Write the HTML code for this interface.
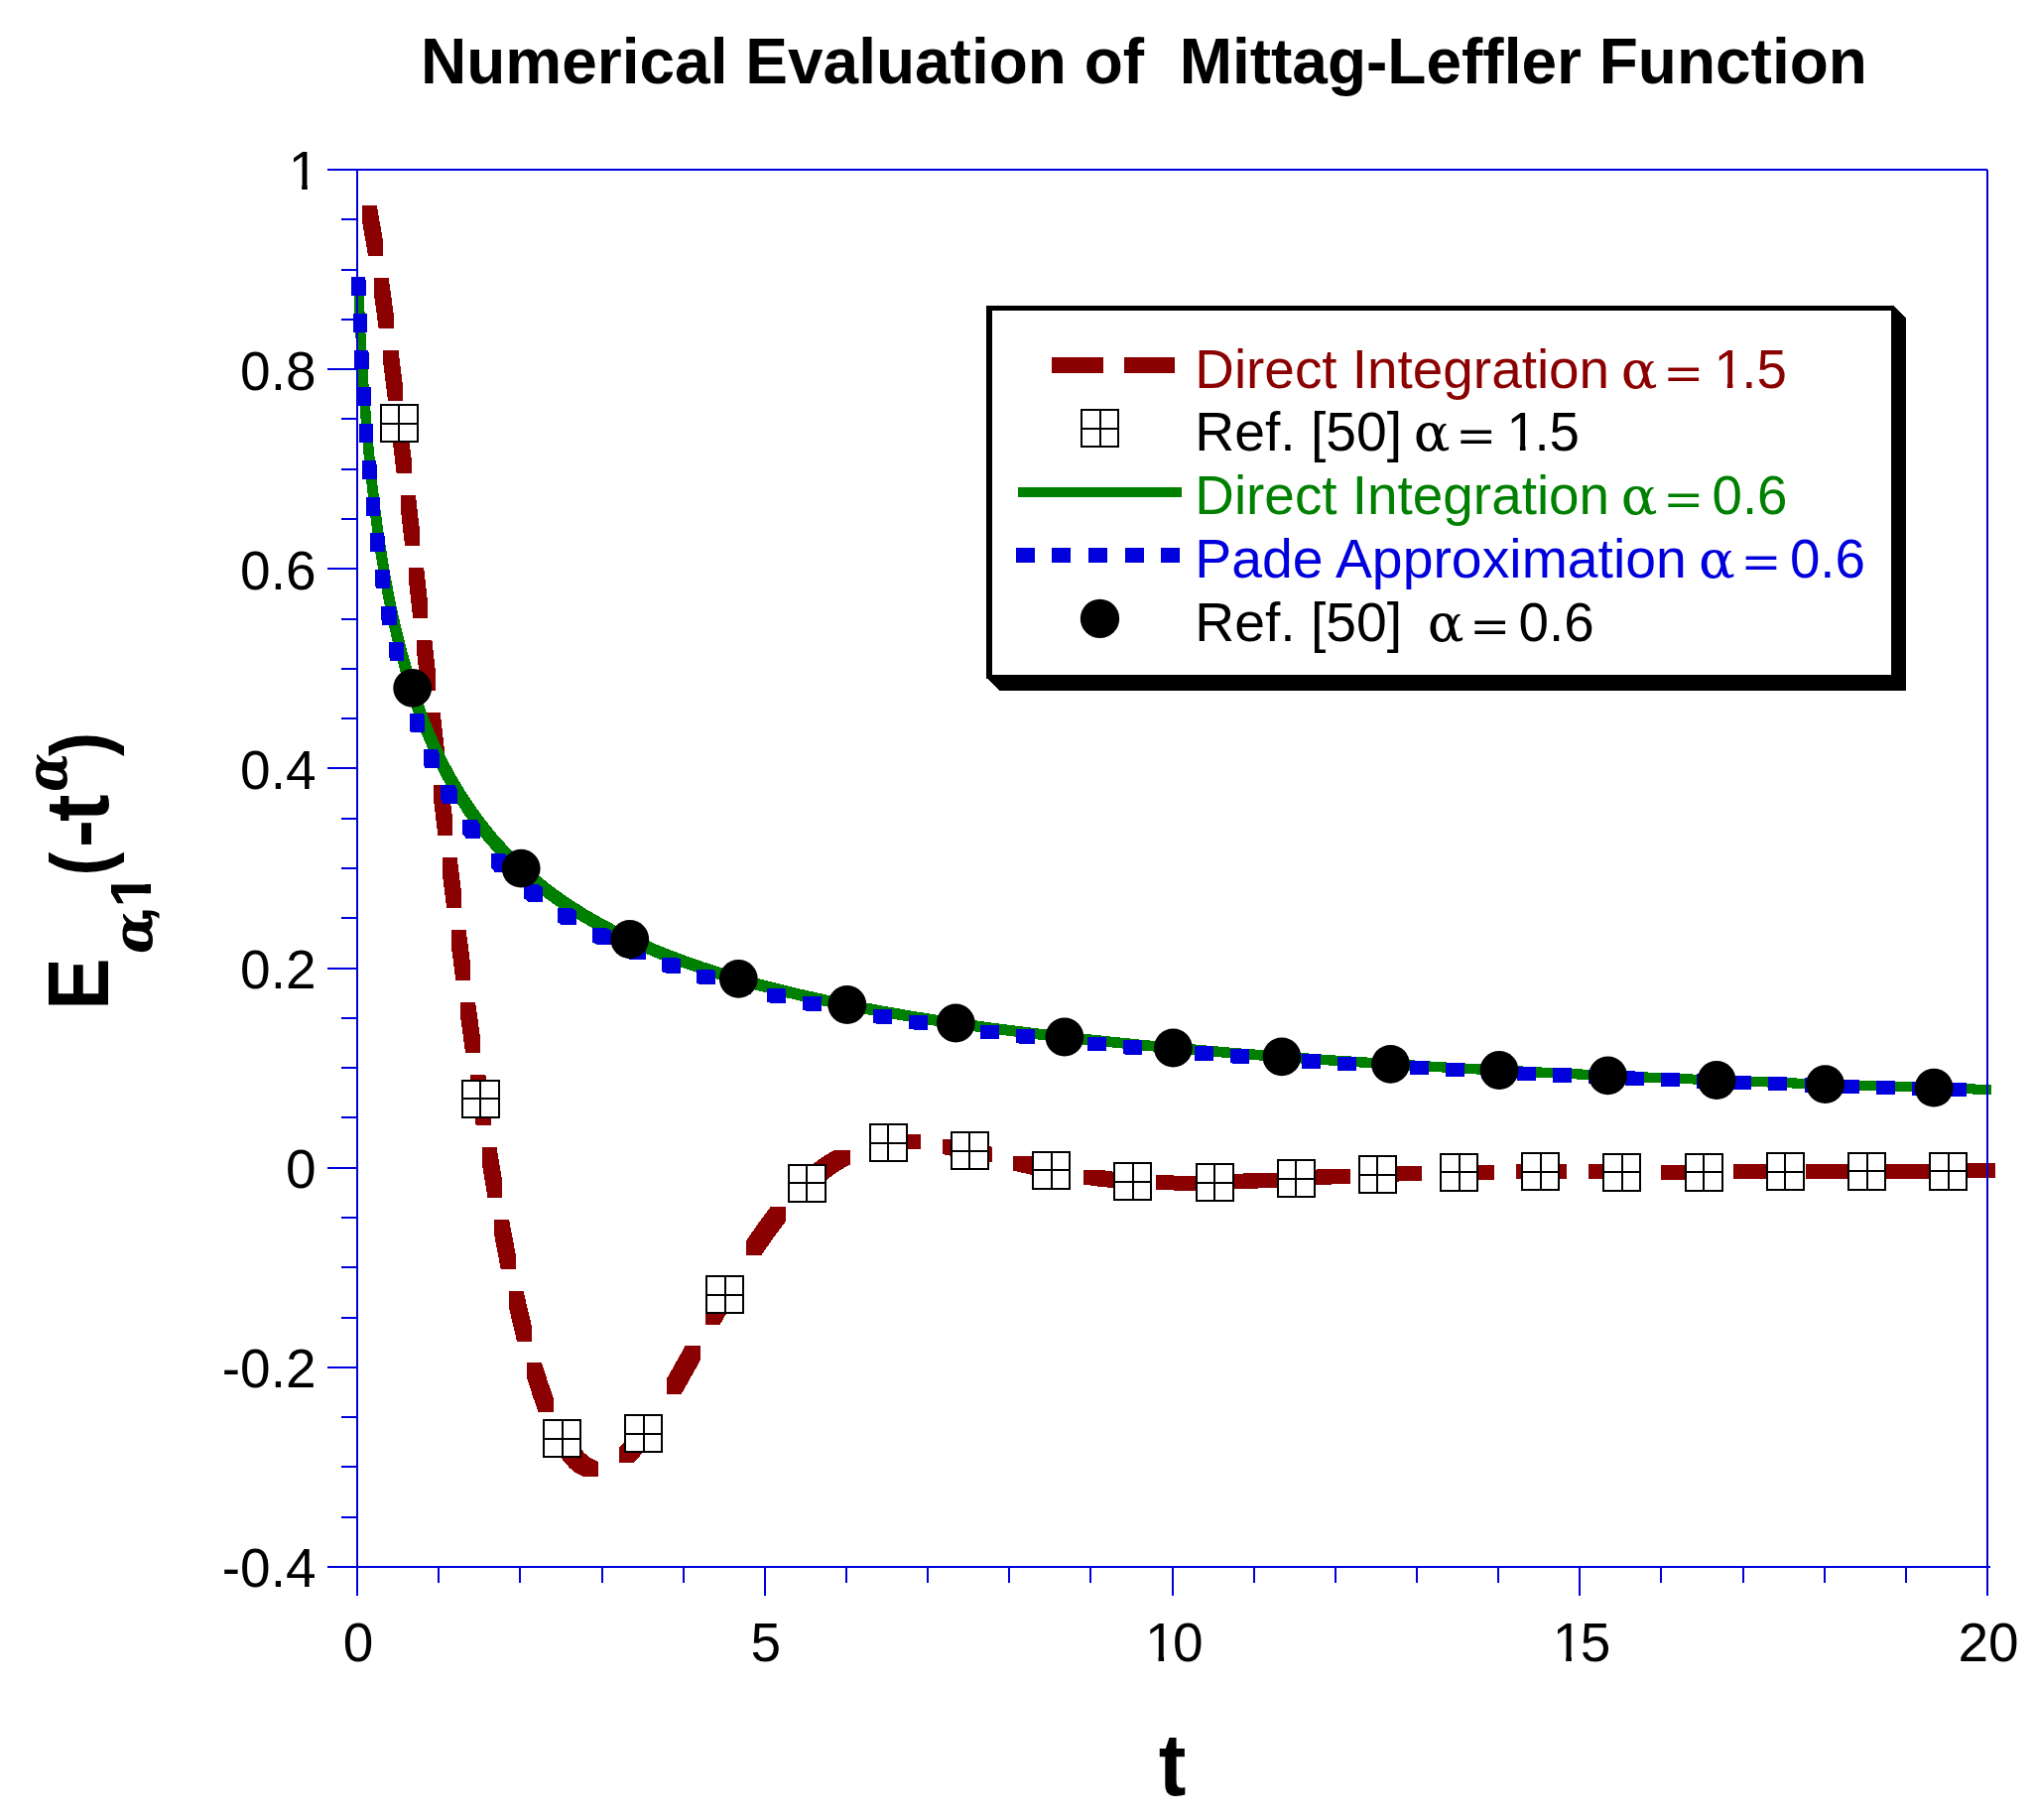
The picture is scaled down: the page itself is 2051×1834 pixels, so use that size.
<!DOCTYPE html>
<html><head><meta charset="utf-8"><title>Numerical Evaluation of Mittag-Leffler Function</title>
<style>html,body{margin:0;padding:0;background:#fff}body{width:2051px;height:1834px;overflow:hidden}</style></head>
<body>
<svg width="2051" height="1834" viewBox="0 0 2051 1834" style="display:block">
<rect width="2051" height="1834" fill="#fff"/>
<defs><clipPath id="c1n"><path d="M-5,-60H300V20H31.2V-5.3H21.6V20H16.0V-5.3H-5Z"/></clipPath><clipPath id="c1b"><path d="M-5,-60H45V-6.6H20.7V6H12.5V-6.6H-5Z"/></clipPath></defs>
<g shape-rendering="crispEdges">
<path fill="#8b0000" d="M364.8,206.9L379.8,206.9L386.0,242.7L386.0,257.7L371.0,257.7L364.8,221.9ZM376.6,279.6L391.6,279.6L396.6,315.5L396.6,330.5L381.6,330.5L376.6,294.6ZM386.4,352.6L401.4,352.6L405.9,388.5L405.9,403.5L390.9,403.5L386.4,367.6ZM395.3,425.6L410.3,425.6L414.6,461.6L414.6,476.6L399.6,476.6L395.3,440.6ZM403.9,498.7L418.9,498.7L423.0,534.7L423.0,549.7L408.0,549.7L403.9,513.7ZM412.2,571.8L427.2,571.8L431.2,607.8L431.2,622.8L416.2,622.8L412.2,586.8ZM420.4,645.0L435.4,645.0L439.4,680.9L439.4,695.9L424.4,695.9L420.4,660.0ZM428.7,718.1L443.7,718.1L447.8,754.0L447.8,769.0L432.8,769.0L428.7,733.1ZM437.1,791.2L452.1,791.2L456.3,827.1L456.3,842.1L441.3,842.1L437.1,806.2ZM445.7,864.2L460.7,864.2L465.1,900.2L465.1,915.2L450.1,915.2L445.7,879.2ZM454.7,937.3L469.7,937.3L474.3,973.2L474.3,988.2L459.3,988.2L454.7,952.3ZM464.2,1010.3L479.2,1010.3L484.1,1046.2L484.1,1061.2L469.1,1061.2L464.2,1025.3ZM474.4,1083.2L489.4,1083.2L494.7,1119.0L494.7,1134.0L479.7,1134.0L474.4,1098.2ZM485.5,1156.0L500.5,1156.0L506.4,1191.8L506.4,1206.8L491.4,1206.8L485.5,1171.0ZM498.0,1228.7L513.0,1228.7L519.8,1264.4L519.8,1279.4L504.8,1279.4L498.0,1243.7ZM512.6,1301.2L527.6,1301.2L536.0,1336.7L536.0,1351.7L521.0,1351.7L512.6,1316.2ZM531.0,1373.2L546.0,1373.2L552.2,1392.8L557.8,1408.4L557.8,1423.4L542.8,1423.4L537.2,1407.8L531.0,1388.2ZM559.3,1444.3L574.3,1444.3L577.9,1450.2L581.8,1455.8L585.2,1460.0L589.0,1464.1L591.7,1466.5L595.9,1469.5L600.1,1471.8L603.1,1472.9L603.1,1487.9L588.0,1487.8L585.1,1486.8L580.9,1484.5L576.7,1481.5L574.0,1479.1L570.2,1475.0L566.8,1470.8L562.9,1465.2L559.3,1459.3ZM623.5,1474.0L623.5,1459.0L629.8,1452.3L635.6,1445.4L642.9,1435.6L650.0,1425.3L665.0,1425.3L665.0,1440.3L657.9,1450.6L650.6,1460.4L644.8,1467.3L638.5,1474.0ZM671.7,1404.9L671.7,1389.9L691.0,1355.5L706.0,1355.5L706.0,1370.5L686.7,1404.9ZM710.6,1334.9L710.6,1319.9L730.3,1285.5L745.3,1285.5L745.3,1300.5L725.6,1334.9ZM752.2,1265.2L752.2,1250.2L764.8,1231.9L776.6,1216.3L791.6,1216.3L791.6,1231.3L779.8,1246.9L767.2,1265.2ZM807.9,1197.4L807.9,1182.4L815.8,1175.7L824.0,1169.5L832.3,1163.9L841.5,1158.6L856.5,1158.6L856.5,1173.6L847.3,1178.9L839.0,1184.5L830.8,1190.7L822.9,1197.4ZM877.2,1161.0L877.2,1146.0L891.1,1144.0L898.4,1143.5L907.3,1143.3L922.3,1143.3L922.3,1158.3L913.4,1158.5L906.1,1159.0L892.2,1161.0ZM907.3,1143.3L927.9,1143.5L927.9,1158.5L907.3,1158.3ZM949.5,1147.9L964.5,1147.9L979.2,1150.9L999.6,1155.6L999.6,1170.6L984.6,1170.6L964.2,1165.9L949.5,1162.9ZM1020.7,1164.6L1035.7,1164.6L1070.9,1172.5L1070.9,1187.5L1055.9,1187.5L1020.7,1179.6ZM1092.3,1178.7L1107.3,1178.7L1124.3,1180.9L1142.8,1182.6L1142.8,1197.6L1127.8,1197.6L1109.3,1195.9L1092.3,1193.7ZM1164.6,1184.4L1197.9,1184.6L1197.9,1199.6L1164.6,1199.4ZM1182.9,1199.6L1182.9,1184.6L1200.5,1184.5L1215.5,1184.5L1215.5,1199.5L1197.9,1199.6ZM1237.4,1198.3L1237.4,1183.3L1273.1,1181.5L1288.1,1181.5L1288.1,1196.5L1252.4,1198.3ZM1310.0,1194.4L1310.0,1179.4L1345.7,1177.5L1360.7,1177.5L1360.7,1192.5L1325.0,1194.4ZM1382.6,1190.9L1382.6,1175.9L1418.3,1174.8L1433.3,1174.8L1433.3,1189.8L1397.6,1190.9ZM1455.3,1189.0L1455.3,1174.0L1491.1,1173.6L1506.1,1173.6L1506.1,1188.6L1470.3,1189.0ZM1528.2,1188.4L1528.2,1173.4L1551.7,1173.4L1566.7,1173.4L1566.7,1188.4L1543.2,1188.4ZM1551.7,1173.4L1579.1,1173.4L1579.1,1188.4L1551.7,1188.4ZM1601.1,1173.4L1652.0,1173.5L1652.0,1188.5L1601.1,1188.4ZM1674.0,1173.5L1689.5,1173.5L1689.5,1188.5L1674.0,1188.5ZM1674.5,1188.5L1674.5,1173.5L1709.9,1173.5L1724.9,1173.5L1724.9,1188.5L1689.5,1188.5ZM1746.9,1188.4L1746.9,1173.4L1782.8,1173.3L1797.8,1173.3L1797.8,1188.3L1761.9,1188.4ZM1819.8,1188.1L1819.8,1173.1L1855.7,1173.0L1870.7,1173.0L1870.7,1188.0L1834.8,1188.1ZM1892.7,1187.8L1892.7,1172.8L1928.6,1172.6L1943.6,1172.6L1943.6,1187.6L1907.7,1187.8ZM1965.6,1187.5L1965.6,1172.5L1995.5,1172.4L2010.5,1172.4L2010.5,1187.4L1980.6,1187.5Z"/>
<g transform="translate(402.1,426.9)"><rect x="-18.5" y="-18.5" width="37" height="37" fill="#fff" stroke="#000" stroke-width="2"/><path d="M-18.5,0H18.5M0,-18.5V18.5" stroke="#000" stroke-width="2" fill="none"/></g>
<g transform="translate(484.3,1107.0)"><rect x="-18.5" y="-18.5" width="37" height="37" fill="#fff" stroke="#000" stroke-width="2"/><path d="M-18.5,0H18.5M0,-18.5V18.5" stroke="#000" stroke-width="2" fill="none"/></g>
<g transform="translate(566.5,1449.8)"><rect x="-18.5" y="-18.5" width="37" height="37" fill="#fff" stroke="#000" stroke-width="2"/><path d="M-18.5,0H18.5M0,-18.5V18.5" stroke="#000" stroke-width="2" fill="none"/></g>
<g transform="translate(648.7,1444.6)"><rect x="-18.5" y="-18.5" width="37" height="37" fill="#fff" stroke="#000" stroke-width="2"/><path d="M-18.5,0H18.5M0,-18.5V18.5" stroke="#000" stroke-width="2" fill="none"/></g>
<g transform="translate(730.9,1304.9)"><rect x="-18.5" y="-18.5" width="37" height="37" fill="#fff" stroke="#000" stroke-width="2"/><path d="M-18.5,0H18.5M0,-18.5V18.5" stroke="#000" stroke-width="2" fill="none"/></g>
<g transform="translate(813.0,1192.1)"><rect x="-18.5" y="-18.5" width="37" height="37" fill="#fff" stroke="#000" stroke-width="2"/><path d="M-18.5,0H18.5M0,-18.5V18.5" stroke="#000" stroke-width="2" fill="none"/></g>
<g transform="translate(895.2,1151.8)"><rect x="-18.5" y="-18.5" width="37" height="37" fill="#fff" stroke="#000" stroke-width="2"/><path d="M-18.5,0H18.5M0,-18.5V18.5" stroke="#000" stroke-width="2" fill="none"/></g>
<g transform="translate(977.4,1159.7)"><rect x="-18.5" y="-18.5" width="37" height="37" fill="#fff" stroke="#000" stroke-width="2"/><path d="M-18.5,0H18.5M0,-18.5V18.5" stroke="#000" stroke-width="2" fill="none"/></g>
<g transform="translate(1059.6,1179.2)"><rect x="-18.5" y="-18.5" width="37" height="37" fill="#fff" stroke="#000" stroke-width="2"/><path d="M-18.5,0H18.5M0,-18.5V18.5" stroke="#000" stroke-width="2" fill="none"/></g>
<g transform="translate(1141.8,1190.6)"><rect x="-18.5" y="-18.5" width="37" height="37" fill="#fff" stroke="#000" stroke-width="2"/><path d="M-18.5,0H18.5M0,-18.5V18.5" stroke="#000" stroke-width="2" fill="none"/></g>
<g transform="translate(1224.0,1191.6)"><rect x="-18.5" y="-18.5" width="37" height="37" fill="#fff" stroke="#000" stroke-width="2"/><path d="M-18.5,0H18.5M0,-18.5V18.5" stroke="#000" stroke-width="2" fill="none"/></g>
<g transform="translate(1306.2,1187.5)"><rect x="-18.5" y="-18.5" width="37" height="37" fill="#fff" stroke="#000" stroke-width="2"/><path d="M-18.5,0H18.5M0,-18.5V18.5" stroke="#000" stroke-width="2" fill="none"/></g>
<g transform="translate(1388.4,1183.5)"><rect x="-18.5" y="-18.5" width="37" height="37" fill="#fff" stroke="#000" stroke-width="2"/><path d="M-18.5,0H18.5M0,-18.5V18.5" stroke="#000" stroke-width="2" fill="none"/></g>
<g transform="translate(1470.6,1181.4)"><rect x="-18.5" y="-18.5" width="37" height="37" fill="#fff" stroke="#000" stroke-width="2"/><path d="M-18.5,0H18.5M0,-18.5V18.5" stroke="#000" stroke-width="2" fill="none"/></g>
<g transform="translate(1552.8,1180.9)"><rect x="-18.5" y="-18.5" width="37" height="37" fill="#fff" stroke="#000" stroke-width="2"/><path d="M-18.5,0H18.5M0,-18.5V18.5" stroke="#000" stroke-width="2" fill="none"/></g>
<g transform="translate(1634.9,1181.0)"><rect x="-18.5" y="-18.5" width="37" height="37" fill="#fff" stroke="#000" stroke-width="2"/><path d="M-18.5,0H18.5M0,-18.5V18.5" stroke="#000" stroke-width="2" fill="none"/></g>
<g transform="translate(1717.1,1181.0)"><rect x="-18.5" y="-18.5" width="37" height="37" fill="#fff" stroke="#000" stroke-width="2"/><path d="M-18.5,0H18.5M0,-18.5V18.5" stroke="#000" stroke-width="2" fill="none"/></g>
<g transform="translate(1799.3,1180.8)"><rect x="-18.5" y="-18.5" width="37" height="37" fill="#fff" stroke="#000" stroke-width="2"/><path d="M-18.5,0H18.5M0,-18.5V18.5" stroke="#000" stroke-width="2" fill="none"/></g>
<g transform="translate(1881.5,1180.4)"><rect x="-18.5" y="-18.5" width="37" height="37" fill="#fff" stroke="#000" stroke-width="2"/><path d="M-18.5,0H18.5M0,-18.5V18.5" stroke="#000" stroke-width="2" fill="none"/></g>
<g transform="translate(1963.7,1180.0)"><rect x="-18.5" y="-18.5" width="37" height="37" fill="#fff" stroke="#000" stroke-width="2"/><path d="M-18.5,0H18.5M0,-18.5V18.5" stroke="#000" stroke-width="2" fill="none"/></g>
<path fill="#008000" d="M356.4,279.0L366.2,279.0L367.8,322.3L370.2,367.1L372.8,405.9L376.0,444.6L379.7,481.7L383.5,514.3L387.9,545.4L392.9,576.4L397.0,598.5L401.6,620.5L406.8,642.5L411.8,661.5L416.8,679.0L423.3,699.3L429.5,716.7L436.4,734.0L444.0,751.3L451.6,767.0L460.9,784.1L469.4,798.2L478.7,812.3L488.9,826.2L500.1,840.1L511.2,852.5L523.2,864.6L535.4,875.8L549.1,887.2L562.9,897.7L578.1,908.1L593.4,917.7L610.3,927.3L627.2,936.0L644.1,944.0L664.0,952.6L685.4,961.0L708.2,969.1L729.8,976.0L754.2,983.2L778.7,989.8L807.6,996.8L836.6,1003.2L865.6,1009.1L894.7,1014.5L926.7,1019.9L960.2,1025.1L996.7,1030.2L1071.2,1039.5L1156.2,1048.3L1247.2,1056.2L1345.6,1063.5L1455.9,1070.4L1576.6,1076.7L1707.7,1082.6L1850.7,1088.0L2007.1,1093.0L2007.1,1102.8L1997.3,1102.8L1812.9,1096.8L1647.8,1090.2L1562.4,1086.3L1484.4,1082.3L1409.3,1078.0L1340.2,1073.6L1274.1,1068.9L1212.4,1064.0L1155.2,1058.9L1098.0,1053.3L1057.1,1048.8L1016.1,1043.8L978.1,1038.8L941.7,1033.6L905.2,1027.8L871.8,1021.9L839.8,1015.7L810.8,1009.6L781.9,1002.8L757.4,996.5L731.5,989.3L707.0,981.7L682.7,973.4L661.3,965.3L641.4,957.0L620.2,947.2L600.5,937.1L585.0,928.4L568.3,917.9L553.1,907.5L539.3,897.0L525.6,885.6L512.1,873.1L500.1,860.9L489.1,848.5L478.0,834.6L467.9,820.7L457.8,805.2L447.9,788.2L439.7,772.5L431.6,755.3L423.7,736.6L416.6,717.8L409.7,697.5L403.6,677.1L397.0,652.3L391.5,628.8L386.7,605.3L382.1,580.3L378.1,555.2L374.1,527.1L370.7,498.9L367.4,467.7L364.5,435.0L361.7,397.8L359.6,363.5L358.0,330.6L356.4,288.8Z"/>
<path fill="#0000dc" d="M354.1,279.3L368.4,279.3L368.6,284.0L368.6,298.3L354.3,298.3L354.1,293.6ZM355.5,316.3L369.8,316.3L369.9,321.0L369.9,335.3L355.6,335.3L355.5,330.6ZM357.1,353.3L371.4,353.3L371.7,358.0L371.7,372.3L357.4,372.3L357.1,367.6ZM359.2,390.2L373.5,390.2L373.8,394.9L373.8,409.2L359.5,409.2L359.2,404.5ZM361.8,427.1L376.1,427.1L376.4,431.8L376.4,446.1L362.1,446.1L361.8,441.4ZM364.8,463.9L379.1,463.9L379.6,468.6L379.6,482.9L365.3,482.9L364.8,478.2ZM368.5,500.7L382.8,500.7L383.3,505.4L383.3,519.7L369.0,519.7L368.5,515.0ZM372.9,537.4L387.2,537.4L387.8,542.1L387.8,556.4L373.5,556.4L372.9,551.7ZM378.1,574.1L392.4,574.1L393.1,578.7L393.1,593.0L378.8,593.0L378.1,588.4ZM384.4,610.6L398.7,610.6L399.6,615.2L399.6,629.5L385.3,629.5L384.4,624.9ZM392.0,647.0L406.3,647.0L407.4,651.6L407.4,665.9L393.1,665.9L392.0,661.3ZM401.2,683.3L415.5,683.3L416.8,687.9L416.8,702.2L402.5,702.2L401.2,697.6ZM412.5,719.4L426.8,719.4L428.4,723.9L428.4,738.2L414.1,738.2L412.5,733.7ZM426.5,755.2L440.8,755.2L442.8,759.7L442.8,774.0L428.5,774.0L426.5,769.5ZM444.0,790.7L458.3,790.7L460.8,795.2L460.8,809.5L446.5,809.5L444.0,805.0ZM466.2,825.8L480.5,825.8L483.7,830.2L483.7,844.5L469.4,844.5L466.2,840.1ZM494.7,860.3L509.0,860.3L513.2,864.6L513.2,878.9L498.9,878.9L494.7,874.6ZM528.3,891.1L542.6,891.1L546.9,894.5L546.9,908.8L532.6,908.8L528.3,905.4ZM562.4,915.3L576.7,915.3L581.1,918.0L581.1,932.3L566.8,932.3L562.4,929.6ZM597.0,935.0L611.3,935.0L615.7,937.2L615.7,951.5L601.4,951.5L597.0,949.3ZM631.9,951.2L646.2,951.2L650.7,953.1L650.7,967.4L636.4,967.4L631.9,965.5ZM667.0,964.9L681.3,964.9L685.8,966.5L685.8,980.8L671.5,980.8L667.0,979.2ZM702.3,976.6L716.6,976.6L721.1,978.0L721.1,992.3L706.8,992.3L702.3,990.9ZM737.8,986.7L752.1,986.7L756.5,987.9L756.5,1002.2L742.2,1002.2L737.8,1001.0ZM773.3,995.6L787.6,995.6L792.1,996.7L792.1,1011.0L777.8,1011.0L773.3,1009.9ZM808.9,1003.5L823.2,1003.5L827.7,1004.4L827.7,1018.7L813.4,1018.7L808.9,1017.8ZM844.6,1010.5L858.9,1010.5L863.4,1011.4L863.4,1025.7L849.1,1025.7L844.6,1024.8ZM880.4,1016.8L894.7,1016.8L899.2,1017.6L899.2,1031.9L884.9,1031.9L880.4,1031.1ZM916.2,1022.5L930.5,1022.5L935.0,1023.2L935.0,1037.5L920.7,1037.5L916.2,1036.8ZM952.1,1027.7L966.4,1027.7L970.9,1028.4L970.9,1042.7L956.6,1042.7L952.1,1042.0ZM988.0,1032.5L1002.3,1032.5L1006.8,1033.0L1006.8,1047.3L992.5,1047.3L988.0,1046.8ZM1023.9,1036.8L1038.2,1036.8L1042.8,1037.4L1042.8,1051.7L1028.5,1051.7L1023.9,1051.1ZM1059.9,1040.8L1074.2,1040.8L1078.7,1041.3L1078.7,1055.6L1064.4,1055.6L1059.9,1055.1ZM1095.9,1044.6L1110.2,1044.6L1114.7,1045.0L1114.7,1059.3L1100.4,1059.3L1095.9,1058.9ZM1131.9,1048.0L1146.2,1048.0L1150.8,1048.4L1150.8,1062.7L1136.5,1062.7L1131.9,1062.3ZM1167.9,1051.2L1182.2,1051.2L1186.8,1051.6L1186.8,1065.9L1172.5,1065.9L1167.9,1065.5ZM1204.0,1054.2L1218.3,1054.2L1222.9,1054.6L1222.9,1068.9L1208.6,1068.9L1204.0,1068.5ZM1240.1,1057.0L1254.4,1057.0L1258.9,1057.4L1258.9,1071.7L1244.6,1071.7L1240.1,1071.3ZM1276.1,1059.7L1290.4,1059.7L1295.0,1060.0L1295.0,1074.3L1280.7,1074.3L1276.1,1074.0ZM1312.2,1062.2L1326.5,1062.2L1331.1,1062.5L1331.1,1076.8L1316.8,1076.8L1312.2,1076.5ZM1348.4,1064.5L1362.7,1064.5L1367.2,1064.8L1367.2,1079.1L1352.9,1079.1L1348.4,1078.8ZM1384.5,1066.7L1398.8,1066.7L1403.4,1067.0L1403.4,1081.3L1389.1,1081.3L1384.5,1081.0ZM1420.6,1068.8L1439.5,1069.1L1439.5,1083.4L1420.6,1083.1ZM1456.8,1070.8L1475.6,1071.1L1475.6,1085.4L1456.8,1085.1ZM1492.9,1072.7L1511.8,1072.9L1511.8,1087.2L1492.9,1087.0ZM1529.1,1074.5L1548.0,1074.7L1548.0,1089.0L1529.1,1088.8ZM1565.3,1076.2L1584.1,1076.4L1584.1,1090.7L1565.3,1090.5ZM1601.4,1077.9L1620.3,1078.1L1620.3,1092.4L1601.4,1092.2ZM1637.6,1079.4L1656.5,1079.6L1656.5,1093.9L1637.6,1093.7ZM1673.8,1080.9L1692.7,1081.1L1692.7,1095.4L1673.8,1095.2ZM1710.0,1082.4L1728.9,1082.5L1728.9,1096.8L1710.0,1096.7ZM1746.2,1083.7L1765.1,1083.9L1765.1,1098.2L1746.2,1098.0ZM1782.4,1085.0L1801.3,1085.2L1801.3,1099.5L1782.4,1099.3ZM1818.6,1086.3L1837.5,1086.5L1837.5,1100.8L1818.6,1100.6ZM1854.8,1087.5L1873.7,1087.7L1873.7,1102.0L1854.8,1101.8ZM1891.0,1088.7L1909.9,1088.9L1909.9,1103.2L1891.0,1103.0ZM1927.3,1089.8L1946.2,1090.0L1946.2,1104.3L1927.3,1104.1ZM1963.5,1090.9L1982.4,1091.1L1982.4,1105.4L1963.5,1105.2Z"/>
</g>
<circle cx="415.7" cy="693.4" r="19.4" fill="#000"/>
<circle cx="525.2" cy="875.2" r="19.4" fill="#000"/>
<circle cx="634.7" cy="946.5" r="19.4" fill="#000"/>
<circle cx="744.3" cy="986.4" r="19.4" fill="#000"/>
<circle cx="853.8" cy="1012.5" r="19.4" fill="#000"/>
<circle cx="963.3" cy="1031.0" r="19.4" fill="#000"/>
<circle cx="1072.9" cy="1045.0" r="19.4" fill="#000"/>
<circle cx="1182.4" cy="1056.0" r="19.4" fill="#000"/>
<circle cx="1291.9" cy="1064.9" r="19.4" fill="#000"/>
<circle cx="1401.5" cy="1072.3" r="19.4" fill="#000"/>
<circle cx="1511.0" cy="1078.5" r="19.4" fill="#000"/>
<circle cx="1620.5" cy="1083.9" r="19.4" fill="#000"/>
<circle cx="1730.1" cy="1088.5" r="19.4" fill="#000"/>
<circle cx="1839.6" cy="1092.6" r="19.4" fill="#000"/>
<circle cx="1949.1" cy="1096.2" r="19.4" fill="#000"/>
<g stroke="#0000dc" stroke-width="2" fill="none" shape-rendering="crispEdges">
<path d="M360,171V1579M2003,171V1579M360,171H2003M360,1579H2006"/>
<path d="M330,1579.0H360M344,1528.7H360M344,1478.4H360M344,1428.1H360M330,1377.9H360M344,1327.6H360M344,1277.3H360M344,1227.0H360M330,1176.7H360M344,1126.4H360M344,1076.1H360M344,1025.9H360M330,975.6H360M344,925.3H360M344,875.0H360M344,824.7H360M330,774.4H360M344,724.1H360M344,673.9H360M344,623.6H360M330,573.3H360M344,523.0H360M344,472.7H360M344,422.4H360M330,372.1H360M344,321.9H360M344,271.6H360M344,221.3H360M330,171.0H360M360.0,1579V1608M442.1,1579V1595M524.3,1579V1595M606.5,1579V1595M688.6,1579V1595M770.8,1579V1608M852.9,1579V1595M935.0,1579V1595M1017.2,1579V1595M1099.3,1579V1595M1181.5,1579V1608M1263.7,1579V1595M1345.8,1579V1595M1428.0,1579V1595M1510.1,1579V1595M1592.2,1579V1608M1674.4,1579V1595M1756.5,1579V1595M1838.7,1579V1595M1920.8,1579V1595M2003.0,1579V1608"/>
</g>
<g font-family="'Liberation Sans',Arial,sans-serif" font-size="55" fill="#000">
<text transform="translate(318.5,392.5) scale(1,1.02)" text-anchor="end">0.8</text>
<text transform="translate(318.5,593.7) scale(1,1.02)" text-anchor="end">0.6</text>
<text transform="translate(318.5,794.8) scale(1,1.02)" text-anchor="end">0.4</text>
<text transform="translate(318.5,996.0) scale(1,1.02)" text-anchor="end">0.2</text>
<text transform="translate(318.5,1197.1) scale(1,1.02)" text-anchor="end">0</text>
<text transform="translate(318.5,1398.3) scale(1,1.02)" text-anchor="end">-0.2</text>
<text transform="translate(318.5,1599.4) scale(1,1.02)" text-anchor="end">-0.4</text>
<text transform="translate(361.0,1674) scale(1,1.02)" text-anchor="middle">0</text>
<text transform="translate(771.8,1674) scale(1,1.02)" text-anchor="middle">5</text>
<text transform="translate(2004.0,1674) scale(1,1.02)" text-anchor="middle">20</text>
</g>
<g transform="translate(288.18,191.10) scale(1.0000,1.0200)" clip-path="url(#c1n)"><text x="2.62" font-family="'Liberation Sans',Arial,sans-serif" font-size="55" fill="#000">1</text></g>
<g transform="translate(1151.50,1674.00) scale(1.0000,1.0200)" clip-path="url(#c1n)"><text x="2.62 30.58" font-family="'Liberation Sans',Arial,sans-serif" font-size="55" fill="#000">10</text></g>
<g transform="translate(1562.25,1674.00) scale(1.0000,1.0200)" clip-path="url(#c1n)"><text x="2.62 30.58" font-family="'Liberation Sans',Arial,sans-serif" font-size="55" fill="#000">15</text></g>
<text x="424" y="84" font-family="'Liberation Sans',Arial,sans-serif" font-weight="bold" font-size="64" fill="#000" xml:space="preserve">Numerical Evaluation of  Mittag-Leffler Function</text>
<text transform="translate(1167.69,1808.71) scale(1.0120,1.0889)" font-family="'Liberation Sans',Arial,sans-serif" font-weight="bold" font-size="82" fill="#000">t</text>
<g transform="rotate(-90)" fill="#000">
<text transform="translate(-1017.79,109.00) scale(0.9574,1.0554)" font-family="'Liberation Sans',Arial,sans-serif" font-weight="bold" font-style="normal" font-size="82">E</text>
<text transform="translate(-961.12,153.19) scale(0.9625,1.0097)" font-family="'DejaVu Serif','Liberation Serif',serif" font-weight="bold" font-style="italic" font-size="56">α</text>
<text transform="translate(-929.75,152.05) scale(1.0625,1.0059)" font-family="'Liberation Sans',Arial,sans-serif" font-weight="bold" font-style="normal" font-size="55">,</text>
<g transform="translate(-914.44,152.00) scale(1.1279,1.0567)" clip-path="url(#c1b)"><text font-family="'Liberation Sans',Arial,sans-serif" font-weight="bold" font-size="55">1</text></g>
<text transform="translate(-882.40,108.20) scale(0.8739,0.9882)" font-family="'Liberation Sans',Arial,sans-serif" font-weight="bold" font-style="normal" font-size="82">(</text>
<text transform="translate(-854.13,109.16) scale(1.0429,1.0100)" font-family="'Liberation Sans',Arial,sans-serif" font-weight="bold" font-style="normal" font-size="82">-</text>
<text transform="translate(-828.00,109.00) scale(1.0040,1.0963)" font-family="'Liberation Sans',Arial,sans-serif" font-weight="bold" font-style="normal" font-size="82">t</text>
<text transform="translate(-797.70,67.15) scale(0.9000,1.0452)" font-family="'DejaVu Serif','Liberation Serif',serif" font-weight="bold" font-style="italic" font-size="56">α</text>
<text transform="translate(-762.10,108.20) scale(0.8870,0.9882)" font-family="'Liberation Sans',Arial,sans-serif" font-weight="bold" font-style="normal" font-size="82">)</text>
</g>
<g shape-rendering="crispEdges">
<path d="M994,308H1909L1921,321V696H1007L995,684H994Z" fill="#000"/>
<rect x="1000" y="313" width="906" height="367" fill="#fff"/>
<path fill="#8b0000" d="M1060,359.5h52v16h-52zM1133,359.5h51v16h-51z"/>
<g transform="translate(1108.6,431.8)"><rect x="-18.5" y="-18.5" width="37" height="37" fill="#fff" stroke="#000" stroke-width="2"/><path d="M-18.5,0H18.5M0,-18.5V18.5" stroke="#000" stroke-width="2" fill="none"/></g>
<rect x="1026" y="491" width="165" height="10" fill="#008000"/>
<path fill="#0000dc" d="M1023.7,552.2h19v14.7h-19zM1060.3,552.2h19v14.7h-19zM1096.9,552.2h19v14.7h-19zM1133.5,552.2h19v14.7h-19zM1170.1,552.2h19v14.7h-19z"/>
</g>
<circle cx="1108.5" cy="623.4" r="19.7" fill="#000"/>
<text transform="translate(1204.28,391.0) scale(1.0034,1)" font-family="'Liberation Sans',Arial,sans-serif" font-size="54.7" fill="#8b0000" xml:space="preserve">Direct Integration</text>
<text transform="translate(1633.67,391.03) scale(1.0094,0.9733)" font-family="'DejaVu Serif','Liberation Serif',serif" font-weight="normal" font-style="normal" font-size="54" fill="#8b0000">α</text>
<text transform="translate(1678.66,393.57) scale(1.1800,0.9429)" font-family="'Liberation Serif','DejaVu Serif',serif" font-weight="normal" font-style="normal" font-size="54" fill="#8b0000" stroke-width="0.9" stroke="#8b0000">=</text>
<g transform="translate(1724.90,391.00) scale(0.9945,0.9945)" clip-path="url(#c1n)"><text x="2.62 30.58 45.87" font-family="'Liberation Sans',Arial,sans-serif" font-size="55" fill="#8b0000">1.5</text></g>
<text transform="translate(1204.25,454.3) scale(1.0106,1)" font-family="'Liberation Sans',Arial,sans-serif" font-size="54.7" fill="#000" xml:space="preserve">Ref. [50]</text>
<text transform="translate(1424.77,454.33) scale(1.0094,0.9733)" font-family="'DejaVu Serif','Liberation Serif',serif" font-weight="normal" font-style="normal" font-size="54" fill="#000">α</text>
<text transform="translate(1469.76,456.87) scale(1.1800,0.9429)" font-family="'Liberation Serif','DejaVu Serif',serif" font-weight="normal" font-style="normal" font-size="54" fill="#000" stroke-width="0.9" stroke="#000">=</text>
<g transform="translate(1516.00,454.30) scale(0.9945,0.9945)" clip-path="url(#c1n)"><text x="2.62 30.58 45.87" font-family="'Liberation Sans',Arial,sans-serif" font-size="55" fill="#000">1.5</text></g>
<text transform="translate(1204.28,518.1) scale(1.0034,1)" font-family="'Liberation Sans',Arial,sans-serif" font-size="54.7" fill="#008000" xml:space="preserve">Direct Integration</text>
<text transform="translate(1633.67,518.13) scale(1.0094,0.9733)" font-family="'DejaVu Serif','Liberation Serif',serif" font-weight="normal" font-style="normal" font-size="54" fill="#008000">α</text>
<text transform="translate(1678.66,520.67) scale(1.1800,0.9429)" font-family="'Liberation Serif','DejaVu Serif',serif" font-weight="normal" font-style="normal" font-size="54" fill="#008000" stroke-width="0.9" stroke="#008000">=</text>
<text x="1725.5" y="518.1" font-family="'Liberation Sans',Arial,sans-serif" font-size="54.7" fill="#008000">0.6</text>
<text transform="translate(1204.24,581.9) scale(1.0127,1)" font-family="'Liberation Sans',Arial,sans-serif" font-size="54.7" fill="#0000dc" xml:space="preserve">Pade Approximation</text>
<text transform="translate(1712.07,581.93) scale(1.0094,0.9733)" font-family="'DejaVu Serif','Liberation Serif',serif" font-weight="normal" font-style="normal" font-size="54" fill="#0000dc">α</text>
<text transform="translate(1757.06,584.47) scale(1.1800,0.9429)" font-family="'Liberation Serif','DejaVu Serif',serif" font-weight="normal" font-style="normal" font-size="54" fill="#0000dc" stroke-width="0.9" stroke="#0000dc">=</text>
<text x="1803.9" y="581.9" font-family="'Liberation Sans',Arial,sans-serif" font-size="54.7" fill="#0000dc">0.6</text>
<text transform="translate(1204.25,646.0) scale(1.0106,1)" font-family="'Liberation Sans',Arial,sans-serif" font-size="54.7" fill="#000" xml:space="preserve">Ref. [50]</text>
<text transform="translate(1438.77,646.03) scale(1.0094,0.9733)" font-family="'DejaVu Serif','Liberation Serif',serif" font-weight="normal" font-style="normal" font-size="54" fill="#000">α</text>
<text transform="translate(1483.76,648.57) scale(1.1800,0.9429)" font-family="'Liberation Serif','DejaVu Serif',serif" font-weight="normal" font-style="normal" font-size="54" fill="#000" stroke-width="0.9" stroke="#000">=</text>
<text x="1530.6" y="646.0" font-family="'Liberation Sans',Arial,sans-serif" font-size="54.7" fill="#000">0.6</text>
</svg>
</body></html>
